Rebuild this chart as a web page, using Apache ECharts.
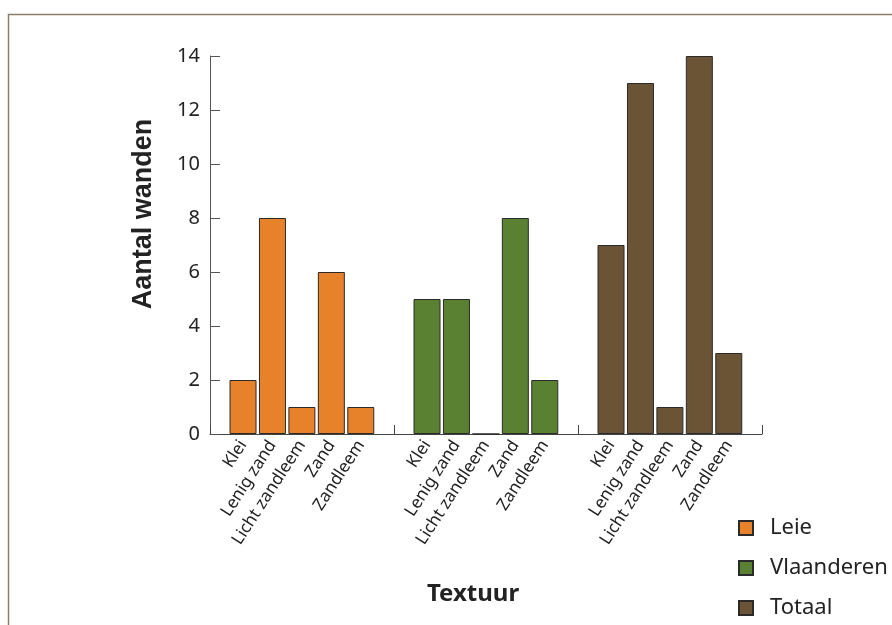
<!DOCTYPE html>
<html><head><meta charset="utf-8">
<script src="https://cdn.jsdelivr.net/npm/echarts@6/dist/echarts.min.js"></script>
<style>html,body{margin:0;padding:0;background:#fff}#c{width:892px;height:625px}</style>
</head><body><div id="c"></div>
<script>
var categories = ['Klei','Lenig zand','Licht zandleem','Zand','Zandleem'];
var leie = [2,8,1,6,1];
var vlaanderen = [5,5,0,8,2];
var totaal = [7,13,1,14,3];
var seriesNames = ['Leie','Vlaanderen','Totaal'];
var yTicks = [0,2,4,6,8,10,12,14];

var colors = ['#E8822A','#5A8131','#6B5436'];
var FONT = 'Noto Sans';
var chart = echarts.init(document.getElementById('c'));
var groupLefts = [228.3, 412.3, 596.3];
var grids = [{left:210, right:130, top:56, bottom:191}];
groupLefts.forEach(function(l){ grids.push({left:l, width:147.2, top:56, bottom:191}); });

var xAxes = [{
  type:'value', gridIndex:0, min:0, max:3, interval:1,
  axisLine:{show:true, lineStyle:{color:'#444', width:1}},
  axisTick:{show:true, inside:true, length:9, lineStyle:{color:'#444'}},
  axisLabel:{show:false}, splitLine:{show:false}
}];
var yAxes = [{
  type:'value', gridIndex:0, min:yTicks[0], max:yTicks[yTicks.length-1], interval:2,
  axisLine:{show:true, lineStyle:{color:'#555', width:1}},
  axisTick:{show:true, inside:true, length:10, lineStyle:{color:'#555'}},
  axisLabel:{color:'#222', fontSize:20, fontFamily:FONT, margin:10},
  splitLine:{show:false}
}];
var data = [leie, vlaanderen, totaal];
var series = [];
for (var g=0; g<3; g++){
  xAxes.push({
    type:'category', gridIndex:g+1, data:categories,
    axisLine:{show:false}, axisTick:{show:false},
    axisLabel:{interval:0, rotate:57, fontSize:17, color:'#222', fontFamily:FONT, margin:8}
  });
  yAxes.push({type:'value', gridIndex:g+1, min:0, max:14, show:false});
  series.push({
    name:seriesNames[g], type:'bar', xAxisIndex:g+1, yAxisIndex:g+1,
    data:data[g], barWidth:27,
    itemStyle:{color:colors[g], borderColor:'#2a2a2a', borderWidth:1}
  });
}

chart.setOption({
  animation:false,
  grid:grids, xAxis:xAxes, yAxis:yAxes, series:series,
  legend:{
    orient:'vertical', left:738, top:517, height:110, width:154, itemWidth:14, itemHeight:14, itemGap:18,
    icon:'rect', data:seriesNames, padding:0,
    textStyle:{fontSize:22, color:'#222', fontFamily:FONT, padding:[0,0,0,12]}
  },
  graphic:[
    {type:'rect', shape:{x:8.5, y:14.5, width:1000, height:1000}, style:{fill:'none', stroke:'#8c7f68', lineWidth:1.5}, z:-1},
    {type:'text', x:144, y:214, rotation:Math.PI/2, style:{text:'Aantal wanden', fontSize:27, fontWeight:'bold', fill:'#222', fontFamily:'Liberation Sans', textAlign:'center', textVerticalAlign:'middle'}},
    {type:'text', x:473, y:594, style:{text:'Textuur', fontSize:24, fontWeight:'bold', fill:'#222', fontFamily:FONT, textAlign:'center', textVerticalAlign:'middle'}}
  ]
});
</script></body></html>
